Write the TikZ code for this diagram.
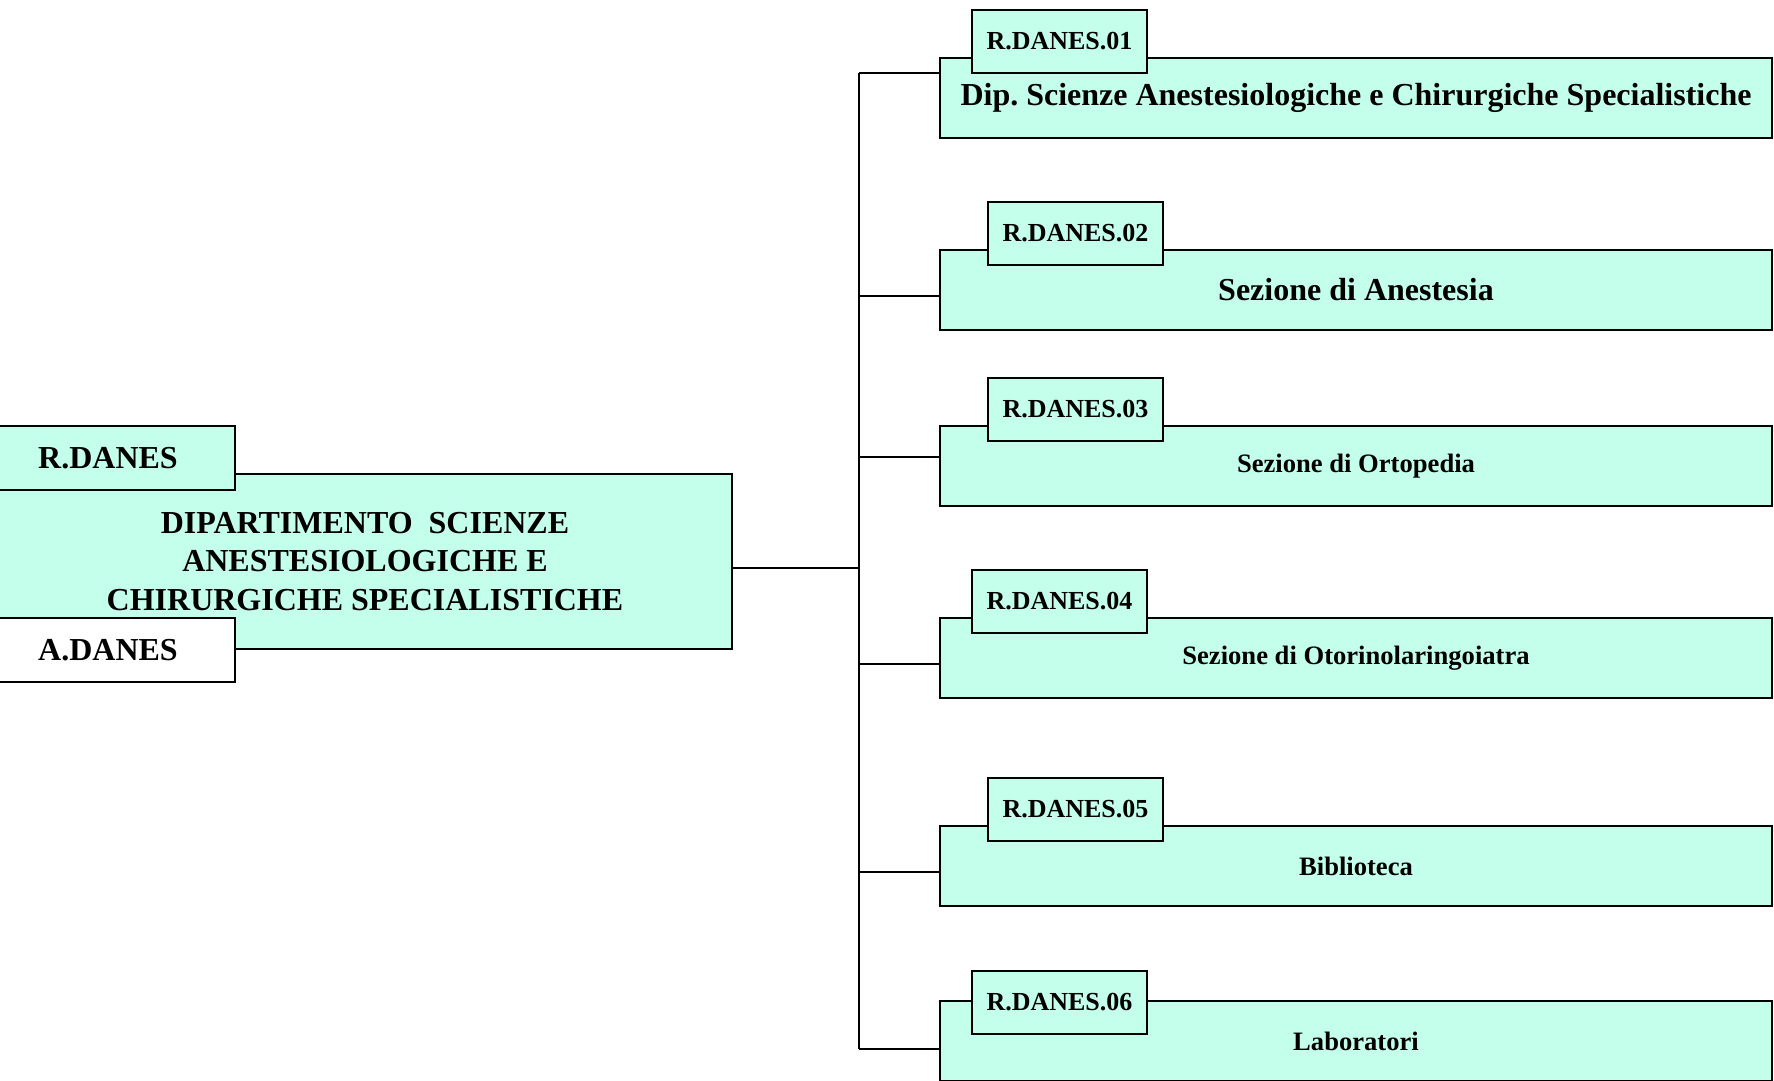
\documentclass[tikz,border=0pt]{standalone}
\usepackage{fontspec}
\setmainfont{Liberation Serif}
\usetikzlibrary{positioning}
\definecolor{mint}{RGB}{196,255,236}
\frenchspacing

\begin{document}
\begin{tikzpicture}
        [
            x=0.5pt, y=-0.5pt, line width=1pt,
            unit/.style={draw, fill=mint, anchor=north west, inner sep=0pt,
                         minimum width=416pt, minimum height=40pt,
                         font=\bfseries\fontsize{13.3}{16}\selectfont},
            tag/.style={draw, fill=mint, anchor=north west, inner sep=0pt,
                        minimum width=87.5pt, minimum height=31.5pt,
                        font=\bfseries\fontsize{13}{15}\selectfont},
            big/.style={font=\bfseries\fontsize{16}{19.2}\selectfont}
        ]
        \useasboundingbox (0,0) rectangle (1774,1081);
        % left side
        \node (main) [unit, big, align=center, minimum width=367pt,
                      minimum height=87.5pt] at (-3,473)
            {DIPARTIMENTO\ \ SCIENZE\\ANESTESIOLOGICHE E\\CHIRURGICHE SPECIALISTICHE};
        \node (rd) [tag, big, minimum width=127pt, minimum height=32pt] at (-20,425) {R.DANES};
        \node (ad) [tag, big, fill=white, minimum width=127pt, minimum height=32pt] at (-20,617) {A.DANES};
        % right side
        \node (s1) [unit, big] at (939,57) {\raisebox{-3pt}{Dip. Scienze Anestesiologiche e Chirurgiche Specialistiche}};
        \node (s2) [unit, big] at (939,249) {Sezione di Anestesia};
        \node (s3) [unit] at (939,425) {Sezione di Ortopedia};
        \node (s4) [unit] at (939,617) {Sezione di Otorinolaringoiatra};
        \node (s5) [unit] at (939,825) {Biblioteca};
        \node (s6) [unit] at (939,1000) {Laboratori};
        \node (t1) [tag] at (971,9) {R.DANES.01};
        \node (t2) [tag] at (987,201) {R.DANES.02};
        \node (t3) [tag] at (987,377) {R.DANES.03};
        \node (t4) [tag] at (971,569) {R.DANES.04};
        \node (t5) [tag] at (987,777) {R.DANES.05};
        \node (t6) [tag] at (971,970) {R.DANES.06};
        % connectors
        \coordinate (bus) at (859,568);
        \draw (main.east |- bus) -- (bus);
        \draw (bus |- 0,73.5) -- (bus |- 0,1049);
        \foreach \n/\y in {s1/73.5,s2/296,s3/457,s4/664,s5/872,s6/1049}
            \draw (bus |- 0,\y) -- (\n.west |- 0,\y);
    \end{tikzpicture}
\end{document}
